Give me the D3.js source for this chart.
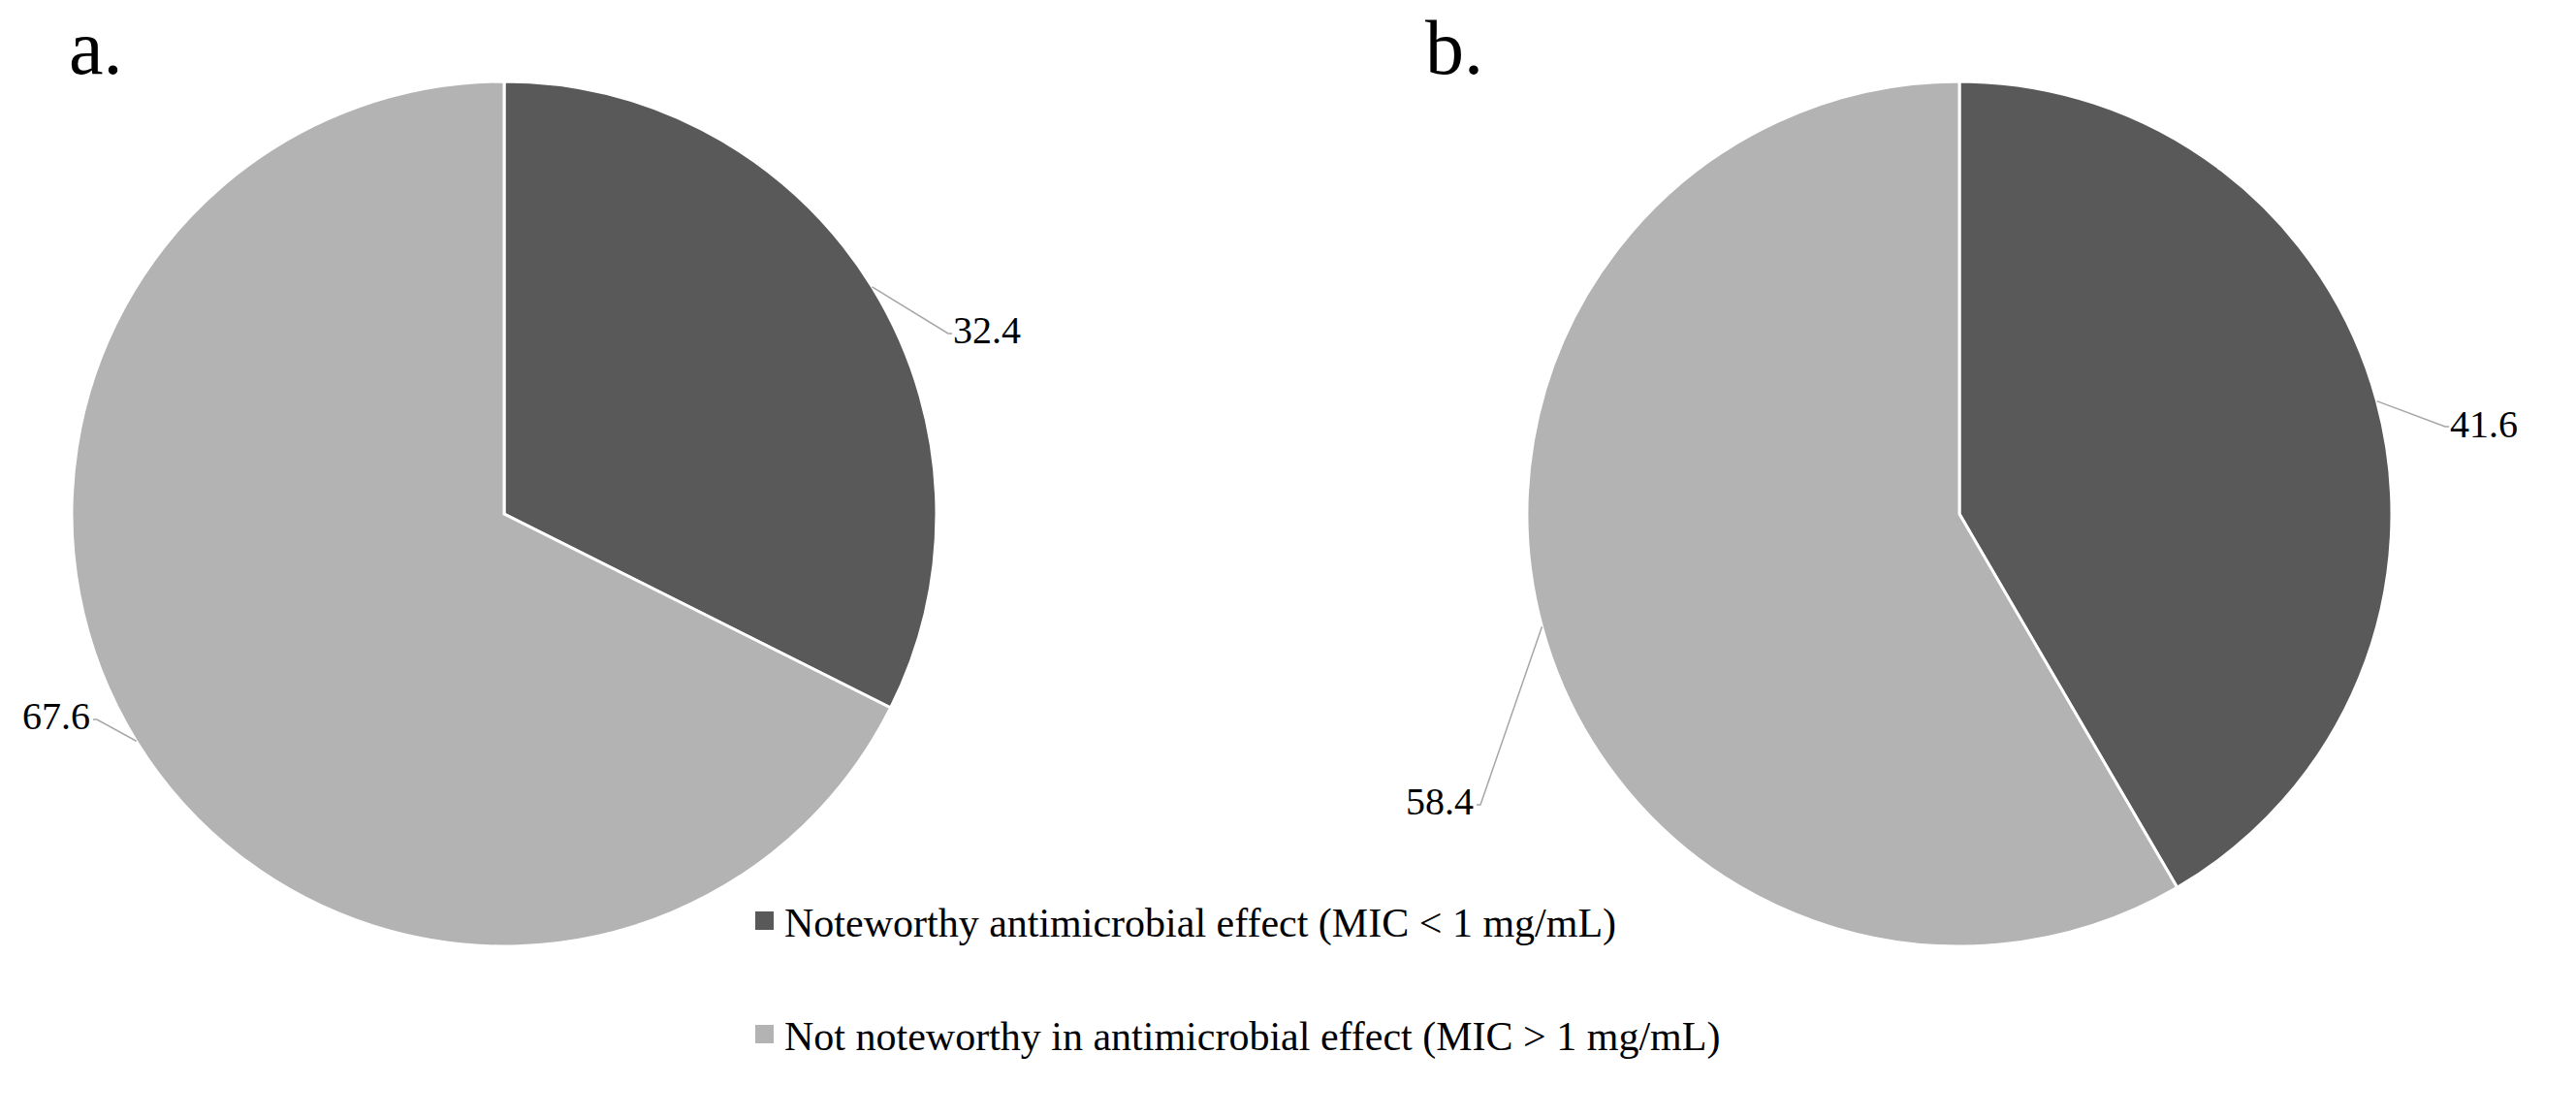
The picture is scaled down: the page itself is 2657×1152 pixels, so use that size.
<!DOCTYPE html>
<html>
<head>
<meta charset="utf-8">
<script src="https://cdn.jsdelivr.net/npm/d3@7"></script>
<style>
  body { margin: 0; background: #fff; }
  text { font-family: "Liberation Serif", "DejaVu Serif", serif; fill: #000; }
</style>
</head>
<body>
<svg id="chart" width="2657" height="1152"></svg>
<script>
// data
var categories = ["Noteworthy antimicrobial effect (MIC < 1 mg/mL)",
                  "Not noteworthy in antimicrobial effect (MIC > 1 mg/mL)"];
var panelNames = ["a.", "b."];
var valuesA = [32.4, 67.6];
var valuesB = [41.6, 58.4];
var colors = ["#595959", "#b3b3b3"];

// layout (label anchor points, per panel per slice)
var panels = [
  { name: panelNames[0], values: valuesA, cx: 520, cy: 530, labelX: 71,
    labels: [{x: 983, y: 354, anchor: "start", lx: 978, ly: 344},
             {x: 93, y: 752, anchor: "end", lx: 100, ly: 742}] },
  { name: panelNames[1], values: valuesB, cx: 2021, cy: 530, labelX: 1470,
    labels: [{x: 2527, y: 451, anchor: "start", lx: 2522, ly: 440},
             {x: 1520, y: 840, anchor: "end", lx: 1527, ly: 830}] }
];
var radius = 446;

var svg = d3.select("#chart");
var pie = d3.pie().sort(null).value(function(d) { return d; });
var arc = d3.arc().innerRadius(0).outerRadius(radius);

panels.forEach(function(p) {
  var g = svg.append("g").attr("transform", "translate(" + p.cx + "," + p.cy + ")");
  var arcs = pie(p.values);

  g.selectAll("path.slice").data(arcs).enter().append("path")
    .attr("class", "slice")
    .attr("d", arc)
    .attr("fill", function(d, i) { return colors[i]; })
    .attr("stroke", "#fff")
    .attr("stroke-width", 3);

  arcs.forEach(function(d, i) {
    var mid = (d.startAngle + d.endAngle) / 2;
    var sx = Math.sin(mid) * radius, sy = -Math.cos(mid) * radius;
    var lab = p.labels[i];
    var ex = lab.lx - p.cx, ey = lab.ly - p.cy;
    var dir = lab.anchor == "start" ? 1 : -1;
    g.append("polyline")
      .attr("points", [[sx, sy], [ex, ey], [ex + dir * 4, ey]].map(function(q) { return q.join(","); }).join(" "))
      .attr("fill", "none")
      .attr("stroke", "#a6a6a6")
      .attr("stroke-width", 1.5);
    svg.append("text")
      .attr("x", lab.x).attr("y", lab.y)
      .attr("text-anchor", lab.anchor)
      .style("font-size", "40px")
      .text(d3.format(".1f")(d.data));
  });

  svg.append("text")
    .attr("x", p.labelX).attr("y", 76)
    .style("font-size", "80px")
    .text(p.name);
});

// legend
var legend = svg.append("g").attr("transform", "translate(779,0)");
var rows = [966, 1083];
categories.forEach(function(c, i) {
  legend.append("rect")
    .attr("x", 0).attr("y", rows[i] - 26)
    .attr("width", 19).attr("height", 19)
    .attr("fill", colors[i]);
  legend.append("text")
    .attr("x", 30).attr("y", rows[i])
    .style("font-size", "42px")
    .text(c);
});
</script>
</body>
</html>
